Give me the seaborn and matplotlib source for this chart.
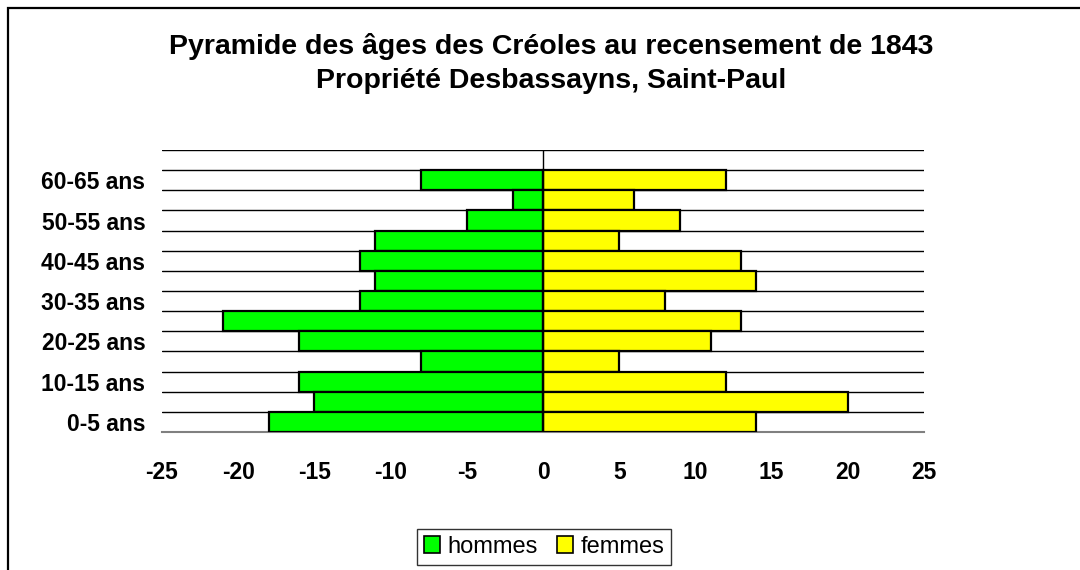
import matplotlib
matplotlib.use("Agg")
import matplotlib.pyplot as plt
from matplotlib.patches import Rectangle, Patch
import seaborn as sns
import pandas as pd

# Age groups, youngest first
ages = ["0-5 ans", "5-10 ans", "10-15 ans", "15-20 ans", "20-25 ans", "25-30 ans",
        "30-35 ans", "35-40 ans", "40-45 ans", "45-50 ans", "50-55 ans", "55-60 ans",
        "60-65 ans"]
# Men are drawn on the negative side of the pyramid
hommes = [-18, -15, -16, -8, -16, -21, -12, -11, -12, -11, -5, -2, -8]
femmes = [14, 20, 12, 5, 11, 13, 8, 14, 13, 5, 9, 6, 12]
xticks = [-25, -20, -15, -10, -5, 0, 5, 10, 15, 20, 25]

title = ("Pyramide des âges des Créoles au recensement de 1843\n"
         "Propriété Desbassayns, Saint-Paul")

df = pd.DataFrame({
    "age": ages * 2,
    "sexe": ["hommes"] * len(ages) + ["femmes"] * len(ages),
    "effectif": hommes + femmes,
})

sns.set_theme(style="white")
plt.rcParams["font.family"] = ["Liberation Sans", "DejaVu Sans"]
plt.rcParams["text.color"] = "black"
plt.rcParams["xtick.color"] = "black"
plt.rcParams["ytick.color"] = "black"

fig = plt.figure(figsize=(10.8, 5.7), dpi=100)
ax = fig.add_axes([162 / 1080, 1 - 432 / 570, (924 - 162) / 1080, (432 - 150) / 570])

colors = {"hommes": "#00FF00", "femmes": "#FFFF00"}
order = ages[::-1]  # oldest group at the top
sns.barplot(data=df, x="effectif", y="age", hue="sexe", order=order,
            hue_order=["hommes", "femmes"], palette=colors, saturation=1,
            dodge=False, width=1.0, edgecolor="black", linewidth=1.6,
            legend=False, ax=ax, zorder=3)

n = len(ages)
ax.set_ylim(n - 0.5, -1.5)
ax.set_xlim(-25, 25)

# Horizontal separators between age groups
for k in range(-2, n - 1):
    ax.axhline(k + 0.5, color="black", lw=1.0, zorder=1)
ax.axvline(0, color="black", lw=1.0, zorder=4)

for s in ["left", "right", "top"]:
    ax.spines[s].set_visible(False)
ax.spines["bottom"].set_color("#808080")
ax.spines["bottom"].set_linewidth(1.5)

ax.set_xticks(xticks)
ax.set_xticklabels([str(v) for v in xticks], fontsize=16.5, fontweight="bold")
ax.tick_params(axis="x", direction="out", length=7, width=1.5, color="#808080",
               labelcolor="black", pad=14)
ax.set_yticks(range(n))
ax.set_yticklabels([lab if i % 2 == 0 else "" for i, lab in enumerate(order)],
                   fontsize=16.5, fontweight="bold")
ax.tick_params(axis="y", length=0, pad=12, labelcolor="black")
ax.set_xlabel("")
ax.set_ylabel("")

fig.text(551 / 1080, 1 - 63 / 570, title, ha="center", va="center", fontsize=20.5,
         fontweight="bold", linespacing=1.4, color="black")

handles = [Patch(facecolor=colors["hommes"], edgecolor="black", lw=1.2, label="hommes"),
           Patch(facecolor=colors["femmes"], edgecolor="black", lw=1.2, label="femmes")]
leg = fig.legend(handles=handles, loc="center", bbox_to_anchor=(544 / 1080, 1 - 547 / 570),
                 ncol=2, fontsize=17, frameon=True, fancybox=False,
                 handlelength=0.7, handleheight=0.7, handletextpad=0.3,
                 columnspacing=0.8, borderpad=0.3)
leg.get_frame().set_edgecolor("black")
leg.get_frame().set_linewidth(1.0)

# Outer chart frame
fig.patches.append(Rectangle((8 / 1080, -0.2), 1.2, 1.2 - 8 / 570,
                             transform=fig.transFigure, fill=False,
                             edgecolor="black", lw=1.6))

fig.savefig("out.png", dpi=100)
